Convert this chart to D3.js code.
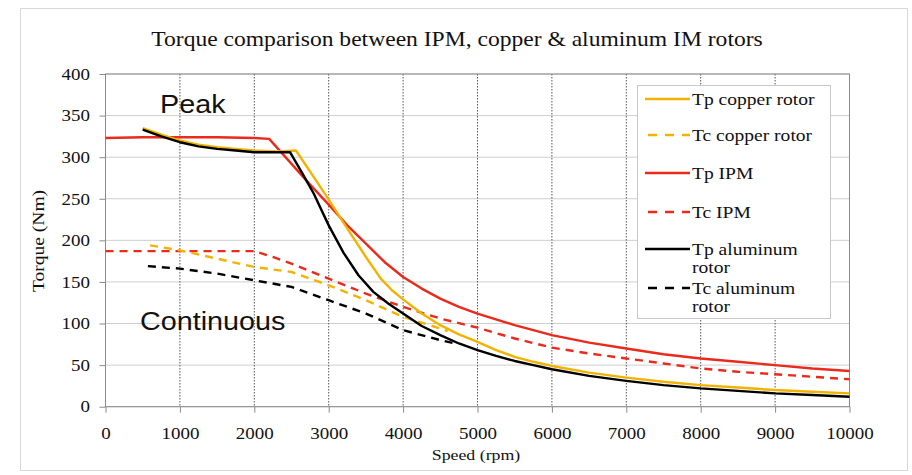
<!DOCTYPE html>
<html><head><meta charset="utf-8">
<script src="https://cdn.jsdelivr.net/npm/d3@7"></script>
<style>body{margin:0;background:#fff}svg{display:block}</style>
</head><body>
<script>
const xTicks = [0,1000,2000,3000,4000,5000,6000,7000,8000,9000,10000];
const yTicks = [0,50,100,150,200,250,300,350,400];

const tpCopper = [[500,335],[750,327],[1000,320],[1250,315],[1500,312],[1750,310],[2000,308],[2300,307],[2560,308],[2800,276],[3000,249],[3200,221],[3500,180],[3700,154],[3850,140],[4000,129],[4250,112],[4500,98],[4750,87],[5000,78],[5250,68],[5500,60],[5750,54],[6000,49],[6500,41],[7000,35],[7500,30],[8000,26],[8500,23],[9000,20],[9500,18],[10000,16]];
const tcCopper = [[600,194],[1000,188],[1500,178],[2000,168],[2500,162],[3000,146],[3500,128],[4000,108],[4500,94],[4600,91]];
const tpIPM = [[0,323],[500,324],[1000,324],[1500,324],[2000,323],[2200,322],[2500,292],[2750,267],[3000,243],[3250,218],[3500,196],[3750,174],[4000,156],[4250,142],[4500,130],[4750,120],[5000,112],[5500,98],[6000,86],[6500,77],[7000,70],[7500,63],[8000,58],[8500,54],[9000,50],[9500,46],[10000,43]];
const tcIPM = [[0,187],[1000,187],[2000,187],[2250,180],[2500,172],[3000,154],[3500,136],[4000,120],[4500,106],[5000,95],[5500,82],[6000,71],[6500,64],[7000,58],[7500,52],[8000,46],[8500,42],[9000,39],[9500,36],[10000,33]];
const tpAlu = [[500,333],[750,325],[1000,318],[1250,313],[1500,310],[1750,308],[2000,306],[2480,306],[2650,280],[2800,256],[3000,218],[3200,185],[3400,158],[3600,138],[3800,124],[4000,112],[4250,97],[4500,86],[4750,76],[5000,68],[5250,61],[5500,55],[5750,50],[6000,45],[6500,37],[7000,31],[7500,26],[8000,22],[8500,19],[9000,16],[9500,14],[10000,12]];
const tcAlu = [[570,169],[1000,166],[1500,160],[2000,152],[2500,144],[3000,128],[3500,112],[4000,92],[4500,80],[4700,76]];

const seriesNames = ["Tp copper rotor","Tc copper rotor","Tp IPM","Tc IPM","Tp aluminum rotor","Tc aluminum rotor"];
const seriesData = [tpCopper,tcCopper,tpIPM,tcIPM,tpAlu,tcAlu];
const seriesColors = ["#f2b300","#f2b300","#ea2a1c","#ea2a1c","#000000","#000000"];
const seriesDashed = [false,true,false,true,false,true];

const SX=1.15;
const SERIF="'Liberation Serif','Times New Roman',serif";
const SANS="'Liberation Sans',Arial,sans-serif";

const W=912,H=475;
const svg=d3.select("body").append("svg").attr("width",W).attr("height",H);
svg.append("rect").attr("x",20.5).attr("y",8.5).attr("width",887).attr("height",462)
  .attr("fill","#fff").attr("stroke","#d8d8d8");

function addText(px,py,str,size,family,anchor,rot){
  const g=svg.append("g").attr("transform",`translate(${px},${py})`+(rot?` rotate(${rot})`:""));
  return g.append("text").attr("transform",`scale(${SX},1)`).attr("text-anchor",anchor||"start")
    .attr("font-family",family).attr("font-size",size).attr("fill","#111").text(str);
}

const x=d3.scaleLinear().domain([0,10000]).range([105.5,849.5]);
const y=d3.scaleLinear().domain([0,400]).range([406.7,74]);

svg.append("g").selectAll("line").data(yTicks).join("line")
  .attr("x1",x(0)).attr("x2",x(10000)).attr("y1",d=>y(d)).attr("y2",d=>y(d))
  .attr("stroke","#cfcfcf").attr("stroke-width",1);
svg.append("g").selectAll("line").data(xTicks.slice(1,-1)).join("line")
  .attr("x1",d=>x(d)).attr("x2",d=>x(d)).attr("y1",y(400)).attr("y2",y(0))
  .attr("stroke","#555").attr("stroke-width",1).attr("stroke-dasharray","1.5,1.5");
svg.append("rect").attr("x",x(0)).attr("y",y(400)).attr("width",x(10000)-x(0)).attr("height",y(0)-y(400))
  .attr("fill","none").attr("stroke","#8a8a8a").attr("stroke-width",1);

const xAxis=svg.append("g").attr("transform",`translate(0,${y(0)})`)
  .call(d3.axisBottom(x).tickValues(xTicks).tickFormat(d3.format("d")).tickSize(6).tickPadding(15));
const yAxis=svg.append("g").attr("transform",`translate(${x(0)},0)`)
  .call(d3.axisLeft(y).tickValues(yTicks).tickSize(6).tickPadding(7.5));
[xAxis,yAxis].forEach(a=>{
  a.select(".domain").remove();
  a.selectAll(".tick line").attr("stroke","#8a8a8a");
  a.selectAll("text").attr("font-family",SERIF).attr("font-size",16.5).attr("fill","#111")
    .attr("transform",`scale(${SX},1)`);
});

const line=d3.line().x(d=>x(d[0])).y(d=>y(d[1])).curve(d3.curveLinear);
const order=[3,1,5,2,0,4];
order.forEach(i=>{
  svg.append("path").datum(seriesData[i]).attr("d",line)
    .attr("fill","none").attr("stroke",seriesColors[i])
    .attr("stroke-width",2.4).attr("stroke-linejoin","round")
    .attr("stroke-dasharray",seriesDashed[i]?"8,6":null);
});

addText(457,46,"Torque comparison between IPM, copper & aluminum IM rotors",20.5,SERIF,"middle");
addText(476,460,"Speed (rpm)",15.5,SERIF,"middle");
addText(44,241,"Torque (Nm)",17,SERIF,"middle",-90);

addText(160,113,"Peak",25,SANS,"start");
addText(140,330,"Continuous",25,SANS,"start");

const lg=svg.append("g");
lg.append("rect").attr("x",637.5).attr("y",85.5).attr("width",193).attr("height",233)
  .attr("fill","#fff").attr("stroke","#c8c8c8");
const legY=[99,135,173,212,249,288];
seriesNames.forEach((n,i)=>{
  lg.append("line").attr("x1",645).attr("x2",690).attr("y1",legY[i]).attr("y2",legY[i])
    .attr("stroke",seriesColors[i]).attr("stroke-width",2.4)
    .attr("stroke-dasharray",seriesDashed[i]?"9,8":null)
    .attr("stroke-dashoffset",seriesDashed[i]?-3:0);
  const words=n.split(" ");
  if(n.length>16){
    addText(692,legY[i]+5.5,words.slice(0,-1).join(" "),17,SERIF,"start");
    addText(692,legY[i]+24,words[words.length-1],17,SERIF,"start");
  } else addText(692,legY[i]+5.5,n,17,SERIF,"start");
});
</script>
</body></html>
